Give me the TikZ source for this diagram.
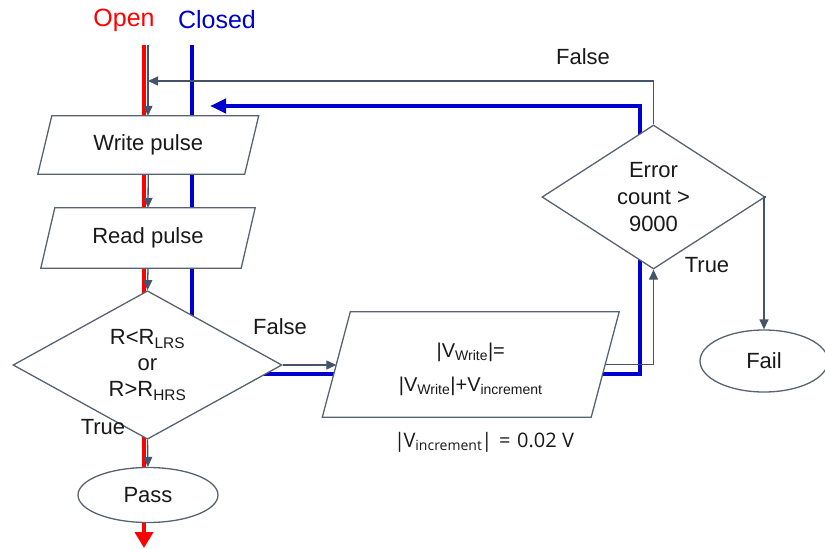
\documentclass[tikz,border=0pt]{standalone}
\usepackage{fontspec}
\setmainfont{Liberation Sans}
\newfontfamily\osans{Open Sans}
\usetikzlibrary{shapes.geometric,arrows.meta}
\pgfdeclarelayer{lines}
\pgfdeclarelayer{bg}
\pgfsetlayers{lines,bg,main}
\definecolor{conn}{RGB}{68,84,106}
\definecolor{outl}{RGB}{88,98,112}
\definecolor{txt}{RGB}{25,25,25}
\definecolor{myred}{RGB}{255,0,0}
\definecolor{myblue}{RGB}{0,0,204}
\begin{document}
\begin{tikzpicture}[x=1pt,y=-1pt,
  shapebase/.style={draw=outl, line width=1.3pt, fill=white, text=txt,
    font=\fontsize{22}{26}\selectfont, align=center, inner sep=0pt},
  paratext/.style={rectangle, text=txt, font=\fontsize{22}{26}\selectfont,
    align=center, inner sep=0pt},
  paraline/.style={draw=outl, line width=1.3pt, fill=white, line join=miter},
  decide/.style={shapebase, diamond},
  term/.style={shapebase, ellipse},
  flow/.style={draw=conn, line width=1.3pt, -{Triangle[length=10pt,width=9pt]}},
  lbl/.style={font=\fontsize{22}{26}\selectfont, text=txt, inner sep=0pt},
  ttl/.style={font=\fontsize{25}{28}\selectfont, inner sep=0pt},
  redline/.style={draw=myred, line width=4pt, -{Triangle[length=16pt,width=18pt]}},
  blueline/.style={draw=myblue, line width=4pt, line join=miter, -{Triangle[length=16pt,width=14pt]}}
]
\useasboundingbox (0,0) rectangle (825,549);

% coloured paths (bottom layer)
\coordinate (rtop) at (144,45);
\coordinate (rbot) at (144,548);
\coordinate (btop) at (192,45);
\coordinate (bc1) at (192,374);
\coordinate (bc2) at (640,374);
\coordinate (bc3) at (640,106);
\coordinate (bend) at (210,106);
\begin{pgfonlayer}{lines}
\path[redline] (rtop) -- (rbot);
\path[blueline] (btop) -- (bc1) -- (bc2) -- (bc3) -- (bend);
\end{pgfonlayer}

% parallelogram boxes: text node + outline on bg layer
\node[paratext, minimum width=206.5pt, minimum height=58pt] (write) at (148.25,145) {Write pulse};
\node[paratext, minimum width=200pt, minimum height=60pt] (read) at (148,238) {Read pulse};
\node[paratext, minimum width=268.5pt, minimum height=105pt] (inc) at (470.75,364.5) {};
\node[paratext, font=\fontsize{20}{34}\selectfont] (inctext) at (470.75,369)
  {|V\textsubscript{Write}|=\\|V\textsubscript{Write}|+V\textsubscript{increment}};
\begin{pgfonlayer}{bg}
\path[paraline] ([xshift=7pt]write.north west) -- ([xshift=7pt]write.north east)
  -- ([xshift=-7pt]write.south east) -- ([xshift=-7pt]write.south west) -- cycle;
\path[paraline] ([xshift=7pt]read.north west) -- ([xshift=7pt]read.north east)
  -- ([xshift=-7pt]read.south east) -- ([xshift=-7pt]read.south west) -- cycle;
\path[paraline] ([xshift=14pt]inc.north west) -- ([xshift=14pt]inc.north east)
  -- ([xshift=-14pt]inc.south east) -- ([xshift=-14pt]inc.south west) -- cycle;
\end{pgfonlayer}

% other nodes
\node[decide, minimum width=269pt, minimum height=124pt] (cond) at (147.5,365)
  {R<R\textsubscript{LRS}\\or\\R>R\textsubscript{HRS}};
\node[term, minimum width=140pt, minimum height=55pt] (pass) at (148,495) {Pass};
\node[decide, minimum width=223pt, minimum height=144pt, font=\fontsize{22}{27}\selectfont] (err) at (653.5,197)
  {Error\\count >\\9000};
\node[term, minimum width=128pt, minimum height=62pt] (fail) at (764,361) {Fail};

% connectors
\coordinate (start) at (148,45);
\coordinate (loopl) at (148,81);
\draw[flow] (start) -- (start |- write.north);
\draw[flow] (write.south) -- (read.north);
\draw[flow] (read.south) -- (cond.north);
\draw[flow] (cond.south) -- (pass.north);
\draw[flow] (cond.east) -- (cond.east -| inc.west);
\draw[flow] (inc.east) -| (err.south);
\draw[flow] (err.east) -| (fail.north);
\draw[flow] (err.north) |- (loopl);

% labels
\node[lbl] (lfalse1) at (280,327) {False};
\node[lbl] (ltrue1) at (103,427) {True};
\node[lbl] (lfalse2) at (583,57) {False};
\node[lbl] (ltrue2) at (707,265) {True};
\node[lbl, font=\osans\fontsize{20}{24}\selectfont] (lvinc) at (484,442)
  {|\kern-1.5ptV\textsubscript{increment}\kern-1pt|\,\,=\,\,0.02 V};
\node[ttl, text=myred] (topen) at (124,20) {Open};
\node[ttl, text=myblue] (tclosed) at (217,20) {Closed};
\end{tikzpicture}
\end{document}
